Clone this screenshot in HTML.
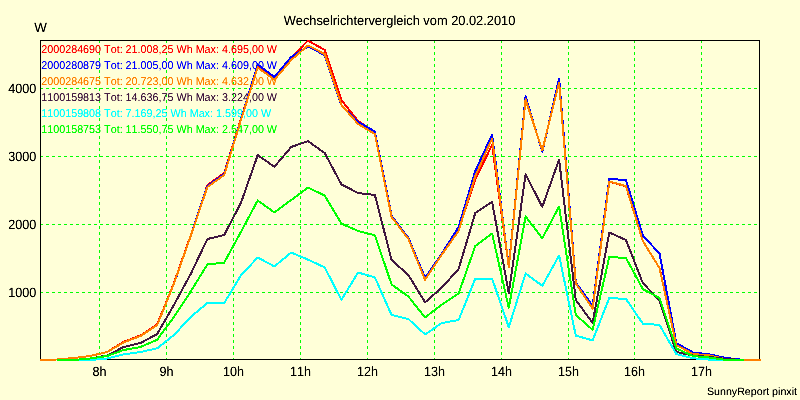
<!DOCTYPE html>
<html><head><meta charset="utf-8"><title>Wechselrichtervergleich</title>
<style>
html,body{margin:0;padding:0;background:#ffffd8;}
body{width:800px;height:400px;overflow:hidden;}
svg{display:block;font-family:"Liberation Sans",Arial,sans-serif;font-kerning:none;text-rendering:geometricPrecision;}
</style></head><body>
<svg width="800" height="400" viewBox="0 0 800 400">
<defs><filter id="tx" x="0" y="0" width="100%" height="100%" filterUnits="objectBoundingBox" color-interpolation-filters="sRGB"><feComponentTransfer><feFuncA type="linear" slope="1.5" intercept="-0.14"/></feComponentTransfer></filter></defs>
<rect x="0" y="0" width="800" height="400" fill="#ffffd8"/>
<g stroke="#00ff00" stroke-width="1" stroke-dasharray="3 3" shape-rendering="crispEdges">
<line x1="99.5" y1="40" x2="99.5" y2="360"/>
<line x1="166.5" y1="40" x2="166.5" y2="360"/>
<line x1="233.5" y1="40" x2="233.5" y2="360"/>
<line x1="300.5" y1="40" x2="300.5" y2="360"/>
<line x1="367.5" y1="40" x2="367.5" y2="360"/>
<line x1="434.5" y1="40" x2="434.5" y2="360"/>
<line x1="501.5" y1="40" x2="501.5" y2="360"/>
<line x1="568.5" y1="40" x2="568.5" y2="360"/>
<line x1="634.5" y1="40" x2="634.5" y2="360"/>
<line x1="701.5" y1="40" x2="701.5" y2="360"/>
<line x1="40" y1="88.5" x2="760" y2="88.5"/>
<line x1="40" y1="156.5" x2="760" y2="156.5"/>
<line x1="40" y1="224.5" x2="760" y2="224.5"/>
<line x1="40" y1="292.5" x2="760" y2="292.5"/>
</g>
<g filter="url(#tx)"><g font-size="11.3px" transform="translate(41.2,0) scale(0.9531,1)">
<text x="0" y="52.5" fill="#ff0000">2000284690 Tot: 21.008,25 Wh Max: 4.695,00 W</text>
<text x="0" y="68.5" fill="#0000ff">2000280879 Tot: 21.005,00 Wh Max: 4.609,00 W</text>
<text x="0" y="84.5" fill="#ff8000">2000284675 Tot: 20.723,00 Wh Max: 4.632,00 W</text>
<text x="0" y="100.5" fill="#401840">1100159813 Tot: 14.636,75 Wh Max: 3.224,00 W</text>
<text x="0" y="116.5" fill="#00ffff">1100159808 Tot: 7.169,25 Wh Max: 1.599,00 W</text>
<text x="0" y="132.5" fill="#00ff00">1100158753 Tot: 11.550,75 Wh Max: 2.547,00 W</text>
</g></g>
<rect x="40.5" y="40.5" width="719" height="319" fill="none" stroke="#000" stroke-width="1" shape-rendering="crispEdges"/>
<g shape-rendering="crispEdges">
<polyline points="40.0,360.0 56.7,359.5 73.5,358.0 90.2,356.0 107.0,352.0 123.7,341.8 140.5,335.4 157.2,324.4 174.0,282.8 190.7,235.4 207.4,185.0 224.2,173.0 240.9,119.0 257.7,65.5 274.4,77.8 291.2,58.0 307.9,40.5 324.7,50.0 341.4,100.0 358.1,121.0 374.9,132.0 391.6,217.0 408.4,239.0 425.1,278.8 441.9,254.0 458.6,230.0 475.3,179.0 492.1,145.0 508.8,266.8 525.6,98.5 542.3,150.8 559.1,81.5 575.8,283.5 592.6,308.3 609.3,181.8 626.0,186.3 642.8,241.0 659.5,268.0 676.3,344.5 693.0,353.5 709.8,355.0 726.5,359.2 744.3,360.0" fill="none" stroke="#ff0000" stroke-width="2" stroke-linejoin="round"/>
<polyline points="40.0,360.0 56.7,359.5 73.5,358.0 90.2,356.0 107.0,352.0 123.7,342.4 140.5,336.0 157.2,325.0 174.0,283.5 190.7,236.0 207.4,186.0 224.2,174.0 240.9,119.5 257.7,64.5 274.4,77.2 291.2,57.0 307.9,46.5 324.7,55.0 341.4,105.0 358.1,122.0 374.9,131.6 391.6,216.0 408.4,238.0 425.1,277.8 441.9,253.5 458.6,227.0 475.3,171.0 492.1,134.5 508.8,266.8 525.6,96.5 542.3,151.8 559.1,78.5 575.8,282.5 592.6,305.8 609.3,179.0 626.0,180.0 642.8,235.5 659.5,253.5 676.3,343.0 693.0,352.5 709.8,354.5 726.5,358.0 744.3,360.0" fill="none" stroke="#0000ff" stroke-width="2" stroke-linejoin="round"/>
<polyline points="40.0,360.0 56.7,359.5 73.5,358.0 90.2,356.0 107.0,352.0 123.7,342.4 140.5,336.0 157.2,325.0 174.0,283.4 190.7,236.0 207.4,187.0 224.2,175.0 240.9,120.0 257.7,67.5 274.4,79.8 291.2,60.0 307.9,45.5 324.7,54.0 341.4,105.0 358.1,124.0 374.9,134.0 391.6,217.0 408.4,239.0 425.1,279.8 441.9,254.5 458.6,231.0 475.3,176.0 492.1,138.5 508.8,266.8 525.6,99.5 542.3,150.4 559.1,82.5 575.8,283.5 592.6,308.8 609.3,181.5 626.0,186.0 642.8,241.0 659.5,268.0 676.3,345.0 693.0,354.0 709.8,355.5 726.5,359.2 743.3,360.0 761.0,360.0" fill="none" stroke="#ff8000" stroke-width="2" stroke-linejoin="round"/>
<polyline points="56.7,360.0 73.5,360.0 90.2,358.5 107.0,355.5 123.7,347.0 140.5,343.0 157.2,334.0 174.0,304.8 190.7,274.0 207.4,239.0 224.2,235.0 240.9,203.0 257.7,155.1 274.4,166.8 291.2,147.0 307.9,141.1 324.7,153.0 341.4,184.4 358.1,193.0 374.9,195.0 391.6,260.0 408.4,275.0 425.1,302.4 441.9,287.5 458.6,269.0 475.3,213.0 492.1,201.9 508.8,293.3 525.6,174.5 542.3,206.8 559.1,159.5 575.8,300.0 592.6,322.8 609.3,232.5 626.0,240.0 642.8,283.0 659.5,300.5 676.3,352.0 693.0,355.5 709.8,357.0 726.5,359.0 744.3,360.0" fill="none" stroke="#401840" stroke-width="2" stroke-linejoin="round"/>
<polyline points="73.5,360.0 90.2,360.0 107.0,358.6 123.7,354.4 140.5,352.0 157.2,348.3 174.0,335.0 190.7,317.0 207.4,303.0 224.2,303.0 240.9,275.4 257.7,257.5 274.4,266.4 291.2,252.5 307.9,259.6 324.7,267.4 341.4,299.8 358.1,272.5 374.9,277.4 391.6,315.0 408.4,319.0 425.1,334.4 441.9,323.0 458.6,320.0 475.3,278.6 492.1,278.6 508.8,327.2 525.6,273.5 542.3,285.8 559.1,255.5 575.8,335.6 592.6,340.4 609.3,298.0 626.0,299.0 642.8,323.6 659.5,325.0 676.3,354.0 693.0,358.3 709.8,359.6 726.5,360.0 744.3,360.0" fill="none" stroke="#00ffff" stroke-width="2" stroke-linejoin="round"/>
<polyline points="56.7,360.0 73.5,360.0 90.2,358.5 107.0,356.0 123.7,350.0 140.5,347.0 157.2,339.7 174.0,316.8 190.7,291.5 207.4,264.4 224.2,262.6 240.9,232.0 257.7,200.5 274.4,212.4 291.2,200.0 307.9,187.5 324.7,195.6 341.4,223.6 358.1,231.0 374.9,235.3 391.6,284.5 408.4,296.5 425.1,317.4 441.9,304.5 458.6,293.5 475.3,246.0 492.1,233.5 508.8,307.8 525.6,216.5 542.3,238.3 559.1,206.5 575.8,315.0 592.6,329.8 609.3,257.0 626.0,258.0 642.8,289.0 659.5,298.0 676.3,348.5 693.0,356.0 709.8,357.6 726.5,360.0 744.3,360.0" fill="none" stroke="#00ff00" stroke-width="2" stroke-linejoin="round"/>
</g>
<g font-size="13.4px" fill="#000" filter="url(#tx)">
<text x="399.5" y="24.5" text-anchor="middle" font-size="13.4px" textLength="231.7" lengthAdjust="spacingAndGlyphs">Wechselrichtervergleich vom 20.02.2010</text>
<text x="34.2" y="31.6">W</text>
<text transform="translate(99.5,376.3) scale(0.94,1)" text-anchor="middle">8h</text>
<text transform="translate(166.5,376.3) scale(0.94,1)" text-anchor="middle">9h</text>
<text transform="translate(233.5,376.3) scale(0.94,1)" text-anchor="middle">10h</text>
<text transform="translate(300.5,376.3) scale(0.94,1)" text-anchor="middle">11h</text>
<text transform="translate(367.5,376.3) scale(0.94,1)" text-anchor="middle">12h</text>
<text transform="translate(434.5,376.3) scale(0.94,1)" text-anchor="middle">13h</text>
<text transform="translate(501.5,376.3) scale(0.94,1)" text-anchor="middle">14h</text>
<text transform="translate(568.5,376.3) scale(0.94,1)" text-anchor="middle">15h</text>
<text transform="translate(634.5,376.3) scale(0.94,1)" text-anchor="middle">16h</text>
<text transform="translate(701.5,376.3) scale(0.94,1)" text-anchor="middle">17h</text>
<text transform="translate(36.3,93.0) scale(0.94,1)" text-anchor="end">4000</text>
<text transform="translate(36.3,161.0) scale(0.94,1)" text-anchor="end">3000</text>
<text transform="translate(36.3,229.0) scale(0.94,1)" text-anchor="end">2000</text>
<text transform="translate(36.3,297.0) scale(0.94,1)" text-anchor="end">1000</text>
<text x="797" y="394.5" text-anchor="end" font-size="10.67px">SunnyReport pinxit</text>
</g>
</svg>
</body></html>
